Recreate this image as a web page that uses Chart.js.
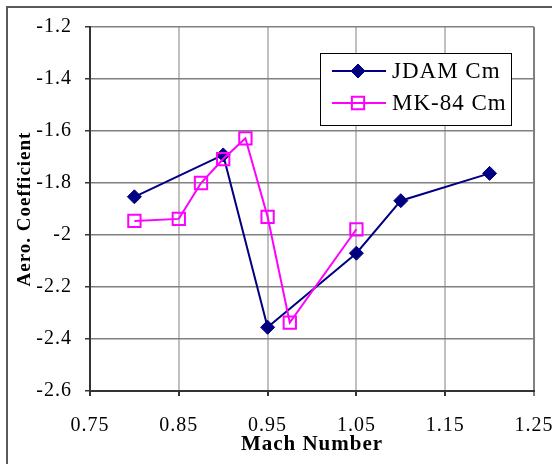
<!DOCTYPE html>
<html>
<head>
<meta charset="utf-8">
<script src="https://cdn.jsdelivr.net/npm/chart.js@4/dist/chart.umd.min.js"></script>
<style>
  html, body { margin: 0; padding: 0; background: #ffffff; }
  #wrap { width: 552px; height: 464px; position: relative; }
</style>
</head>
<body>
<div id="wrap"><canvas id="c" width="552" height="464"></canvas></div>
<script>
// Pitching-moment coefficient vs. Mach number
const jdamMach = [0.80, 0.90, 0.95, 1.05, 1.10, 1.20];
const jdamCm   = [-1.853, -1.692, -2.355, -2.070, -1.868, -1.763];

const mk84Mach = [0.80, 0.85, 0.875, 0.90, 0.925, 0.95, 0.975, 1.05];
const mk84Cm   = [-1.946, -1.938, -1.800, -1.708, -1.628, -1.930, -2.337, -1.978];

const xTickLabels = ['0.75', '0.85', '0.95', '1.05', '1.15', '1.25'];
const yTickLabels = ['-1.2', '-1.4', '-1.6', '-1.8', '-2', '-2.2', '-2.4', '-2.6'];

const seriesNames = ['JDAM Cm', 'MK-84 Cm'];

const NAVY = '#000080';
const MAGENTA = '#ff00ff';
const SERIF = '"Liberation Serif", "Times New Roman", serif';
const TRACKING = '1px';

const toXY = (xs, ys) => xs.map((x, i) => ({ x: x, y: ys[i] }));

// Slightly tracked-out lettering for all chart text
const tracking = {
  id: 'tracking',
  beforeUpdate(chart) { chart.ctx.letterSpacing = TRACKING; },
  beforeLayout(chart) { chart.ctx.letterSpacing = TRACKING; },
  beforeDraw(chart) { chart.ctx.letterSpacing = TRACKING; }
};

// Outer frame around the whole chart object
const framePlugin = {
  id: 'frame',
  beforeDraw(chart) {
    const ctx = chart.ctx;
    ctx.save();
    ctx.strokeStyle = '#5a5a5a';
    ctx.lineWidth = 2;
    ctx.beginPath();
    ctx.moveTo(7, 470);
    ctx.lineTo(7, 7);
    ctx.lineTo(560, 7);
    ctx.stroke();
    ctx.restore();
  }
};

// Boxed legend placed inside the plot area
const boxLegend = {
  id: 'boxLegend',
  afterDraw(chart) {
    const ctx = chart.ctx;
    const bx = 320, by = 53, bw = 191, bh = 72;
    ctx.save();
    ctx.fillStyle = '#ffffff';
    ctx.fillRect(bx, by, bw, bh);
    ctx.strokeStyle = '#000000';
    ctx.lineWidth = 1;
    ctx.strokeRect(bx + 0.5, by + 0.5, bw, bh);
    const rows = [by + 18, by + 50];
    chart.data.datasets.forEach((ds, i) => {
      const y = rows[i];
      ctx.strokeStyle = ds.borderColor;
      ctx.lineWidth = ds.borderWidth;
      ctx.beginPath();
      ctx.moveTo(332, y);
      ctx.lineTo(386, y);
      ctx.stroke();
      ctx.lineWidth = ds.pointBorderWidth;
      ctx.strokeStyle = ds.pointBorderColor;
      ctx.fillStyle = ds.pointBackgroundColor;
      Chart.helpers.drawPoint(ctx, {
        pointStyle: ds.pointStyle,
        radius: ds.pointRadius,
        borderWidth: ds.pointBorderWidth,
        rotation: 0
      }, 358, y);
      ctx.fillStyle = '#000000';
      ctx.font = '23px ' + SERIF;
      ctx.letterSpacing = '1px';
      ctx.textBaseline = 'middle';
      ctx.textAlign = 'left';
      ctx.fillText(seriesNames[i], 392, y + 1);
    });
    ctx.restore();
  }
};

new Chart(document.getElementById('c'), {
  type: 'line',
  data: {
    datasets: [
      {
        label: seriesNames[0],
        data: toXY(jdamMach, jdamCm),
        order: 1,
        borderColor: NAVY,
        borderWidth: 2,
        pointStyle: 'rectRot',
        pointRadius: 7,
        pointBackgroundColor: NAVY,
        pointBorderColor: NAVY,
        pointBorderWidth: 1,
        tension: 0,
        fill: false
      },
      {
        label: seriesNames[1],
        data: toXY(mk84Mach, mk84Cm),
        order: 0,
        borderColor: MAGENTA,
        borderWidth: 2,
        pointStyle: 'rect',
        pointRadius: 8.7,
        pointBackgroundColor: 'rgba(0,0,0,0)',
        pointBorderColor: MAGENTA,
        pointBorderWidth: 2,
        tension: 0,
        fill: false
      }
    ]
  },
  options: {
    responsive: false,
    animation: false,
    devicePixelRatio: 1,
    layout: { padding: { top: 27, right: 18, left: 0, bottom: 0 } },
    plugins: {
      legend: { display: false },
      tooltip: { enabled: false }
    },
    scales: {
      x: {
        type: 'linear',
        min: 0.75,
        max: 1.25,
        afterBuildTicks(scale) {
          scale.ticks = xTickLabels.map(t => ({ value: parseFloat(t) }));
        },
        afterFit(scale) {
          scale.height = 73;
          scale.paddingLeft = 0;
          scale.paddingRight = 0;
        },
        ticks: {
          autoSkip: false,
          maxRotation: 0,
          padding: 18,
          color: '#000000',
          font: { family: SERIF, size: 20 },
          callback: (v, i) => xTickLabels[i]
        },
        grid: {
          color: (c) => (c.index === xTickLabels.length - 1 ? '#808080' : '#c0c0c0'),
          lineWidth: 2,
          tickColor: (c) => (c.index === xTickLabels.length - 1 ? '#808080' : '#333333'),
          tickLength: 5,
          drawTicks: true
        },
        border: { color: '#333333', width: 2 },
        title: {
          display: true,
          text: 'Mach Number',
          color: '#000000',
          font: { family: SERIF, size: 21, weight: 'bold' },
          padding: { top: 0, bottom: 7 }
        }
      },
      y: {
        type: 'linear',
        min: -2.6,
        max: -1.2,
        afterBuildTicks(scale) {
          scale.ticks = yTickLabels.map(t => ({ value: parseFloat(t) }));
        },
        afterFit(scale) {
          scale.width = 90;
          scale.paddingTop = 0;
          scale.paddingBottom = 0;
        },
        ticks: {
          autoSkip: false,
          padding: 13,
          color: '#000000',
          font: { family: SERIF, size: 20 },
          callback: (v, i) => yTickLabels[i]
        },
        grid: {
          color: '#808080',
          lineWidth: 1.5,
          tickColor: '#333333',
          tickLength: 5,
          drawTicks: true
        },
        border: { color: '#333333', width: 2 },
        title: {
          display: true,
          text: 'Aero. Coefficient',
          color: '#000000',
          font: { family: SERIF, size: 19, weight: 'bold' },
          padding: { top: 14, bottom: 0 }
        }
      }
    }
  },
  plugins: [tracking, framePlugin, boxLegend]
});
</script>
</body>
</html>
